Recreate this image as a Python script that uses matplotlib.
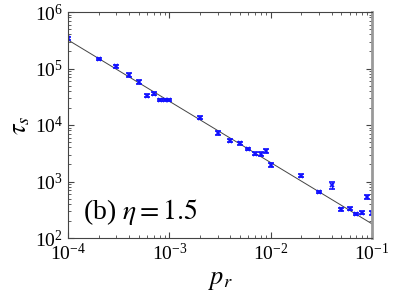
import matplotlib.pyplot as plt
import numpy as np

plt.rcParams["font.family"] = ["Liberation Serif", "DejaVu Serif"]
plt.rcParams["mathtext.fontset"] = "stix"

# data
p_r = [1e-4, 2e-4, 3e-4, 4e-4, 5e-4, 6e-4, 7e-4, 8e-4, 9e-4,
       1e-3, 2e-3, 3e-3, 4e-3, 5e-3, 6e-3, 7e-3, 8e-3, 9e-3,
       1e-2, 2e-2, 3e-2, 4e-2, 5e-2, 6e-2, 7e-2, 8e-2, 9e-2, 1e-1]
tau_s = [3.4e5, 1.47e5, 1.1e5, 7.7e4, 5.8e4, 3.3e4, 3.6e4, 2.8e4, 2.8e4,
         2.8e4, 1.35e4, 7.2e3, 5.3e3, 4.8e3, 3.8e3, 3.1e3, 3.1e3, 3.5e3,
         1.95e3, 1.27e3, 650, 850, 320, 330, 265, 280, 540, 275]
rel_err = [0.05, 0.05, 0.06, 0.08, 0.07, 0.06, 0.06, 0.05, 0.05,
           0.05, 0.06, 0.07, 0.05, 0.06, 0.05, 0.06, 0.07, 0.08,
           0.07, 0.06, 0.05, 0.14, 0.05, 0.06, 0.05, 0.06, 0.08, 0.08]

# fitted power-law line endpoints
fit_x = [1e-4, 1e-1]
fit_y = [3.2e5, 178]

fig = plt.figure(figsize=(3.98, 2.93), dpi=100)
ax = fig.add_axes([68 / 398, 55 / 293, 304 / 398, 226 / 293])

ax.plot(fit_x, fit_y, color="#444444", linewidth=0.7, zorder=1)
yerr = np.array(tau_s) * np.array(rel_err)
ax.errorbar(p_r, tau_s, yerr=yerr, fmt="x", color="#1010ff", ms=3,
            mew=1.2, elinewidth=1.0, capsize=2, capthick=1.0, zorder=2)

ax.set_xscale("log")
ax.set_yscale("log")
ax.set_xlim(1e-4, 1e-1)
ax.set_ylim(1e2, 1e6)

ax.tick_params(which="both", direction="in", top=True, right=True,
               labelsize=14, colors="#444444", labelcolor="black")
ax.tick_params(which="major", length=4)
ax.tick_params(which="minor", length=2)

for side in ["left", "bottom", "top"]:
    ax.spines[side].set_color("#444444")
ax.spines["right"].set_color("#999999")
ax.spines["right"].set_linewidth(2)

ax.set_xlabel(r"$p_r$", fontsize=19, labelpad=4)
ax.set_ylabel(r"$\tau_s$", fontsize=19, labelpad=2)

ax.text(0.05, 0.115, r"(b) $\eta = 1.5$", transform=ax.transAxes,
        fontsize=20, va="center", ha="left")

fig.savefig("out.png", dpi=100)
